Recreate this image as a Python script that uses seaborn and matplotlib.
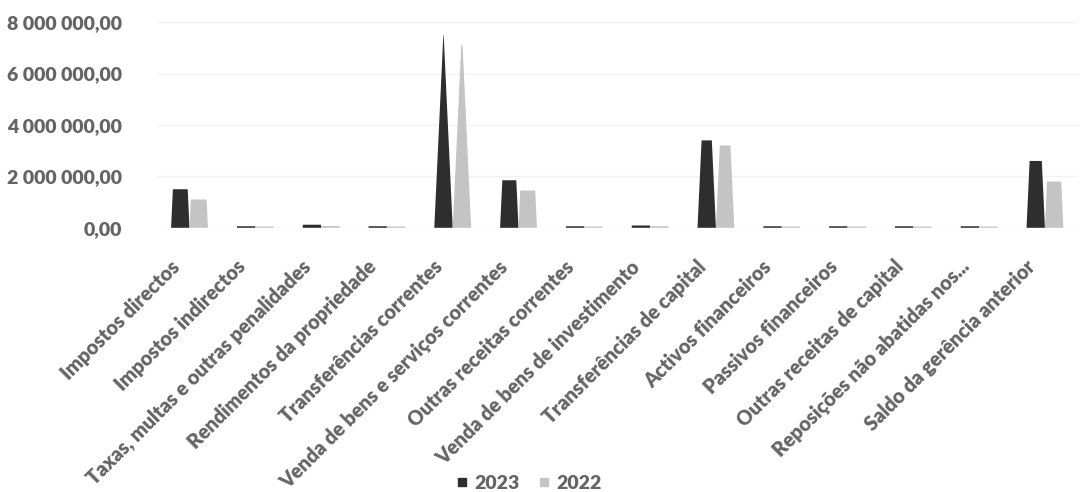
import matplotlib
matplotlib.use("Agg")
import matplotlib.pyplot as plt
import matplotlib.transforms as mtransforms
import seaborn as sns
import pandas as pd
from matplotlib.patches import Polygon
from matplotlib.ticker import FuncFormatter

categories = [
    "Impostos directos", "Impostos indirectos", "Taxas, multas e outras penalidades",
    "Rendimentos da propriedade", "Transferências correntes",
    "Venda de bens e serviços correntes", "Outras receitas correntes",
    "Venda de bens de investimento", "Transferências de capital",
    "Activos financeiros", "Passivos financeiros", "Outras receitas de capital",
    "Reposições não abatidas nos...", "Saldo da gerência anterior",
]
values_2023 = [1500000, 60000, 120000, 60000, 7500000, 1850000, 60000, 90000,
               3400000, 60000, 60000, 60000, 60000, 2600000]
values_2022 = [1100000, 50000, 70000, 50000, 7100000, 1450000, 50000, 60000,
               3200000, 50000, 50000, 50000, 50000, 1800000]
series_names = ["2023", "2022"]
yticks = [0, 2000000, 4000000, 6000000, 8000000]

df = pd.DataFrame({
    "cat": categories * 2,
    "value": values_2023 + values_2022,
    "year": [series_names[0]] * len(categories) + [series_names[1]] * len(categories),
})

sns.set_theme(style="white")
plt.rcParams["font.family"] = ["Lato", "DejaVu Sans"]
text_color = "#646464"
colors = {"2023": "#2e2e2e", "2022": "#c4c4c4"}

fig = plt.figure(figsize=(10.8, 4.92), dpi=100)
ax = fig.add_axes([0.145, 0.537, 0.853, 0.418])

sns.barplot(data=df, x="cat", y="value", hue="year", palette=colors,
            width=0.56, ax=ax, legend=False, saturation=1)

ax.set_ylim(0, 8000000)
apex = max(values_2023 + values_2022) * 1.02
# convert bars to truncated cones (trapezoids)
for p in list(ax.patches):
    x, w, h = p.get_x(), p.get_width(), p.get_height()
    if w == 0:
        continue
    frac = max(0.0, 1 - h / apex)
    cx = x + w / 2
    tw = w * frac
    poly = Polygon([(x, 0), (x + w, 0), (cx + tw / 2, h), (cx - tw / 2, h)],
                   closed=True, facecolor=p.get_facecolor(), edgecolor="none")
    p.remove()
    ax.add_patch(poly)

ax.set_yticks(yticks)
ax.yaxis.set_major_formatter(FuncFormatter(
    lambda v, pos: "0,00" if v == 0 else f"{int(v):,}".replace(",", " ") + ",00"))
ax.grid(axis="y", color="#f2f2f2", linewidth=1)
ax.set_axisbelow(True)
for s in ax.spines.values():
    s.set_visible(False)
ax.tick_params(axis="both", length=0)
ax.tick_params(axis="y", pad=25, labelsize=14, labelcolor=text_color)
ax.tick_params(axis="x", pad=21, labelsize=14.2, labelcolor=text_color)
for lbl in ax.get_yticklabels():
    lbl.set_fontweight("heavy")
ax.set_xticks(range(len(categories)))
ax.set_xticklabels(categories, rotation=45, ha="right", rotation_mode="anchor",
                   fontweight="heavy")
offset = mtransforms.ScaledTranslation(-20 / 100, 0, fig.dpi_scale_trans)
for lbl in ax.get_xticklabels():
    lbl.set_transform(lbl.get_transform() + offset)
ax.set_xlabel("")
ax.set_ylabel("")
ax.set_xlim(-0.5, len(categories) - 0.5)

handles = [plt.Line2D([], [], marker="s", linestyle="none", markersize=6,
                      color=colors[n]) for n in series_names]
fig.legend(handles, series_names, loc="lower center", bbox_to_anchor=(0.488, -0.035),
           ncol=2, frameon=False, handletextpad=0.1, columnspacing=0.8,
           handlelength=1.0,
           prop={"weight": "heavy", "size": 14}, labelcolor=text_color)

fig.savefig("out.png", dpi=100, facecolor="white")
